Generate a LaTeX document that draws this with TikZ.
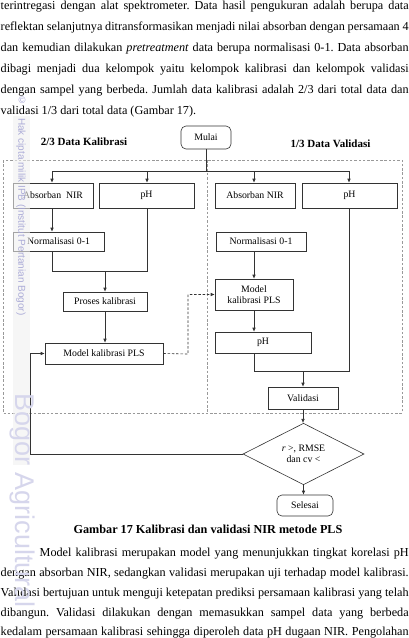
\documentclass[tikz,border=0pt]{standalone}
\usepackage{fontspec}
\setmainfont{Liberation Serif}
\newfontfamily\wmfont{Liberation Sans}
\usetikzlibrary{arrows.meta,shapes.geometric}
\definecolor{wm}{HTML}{A4A4D4}
\definecolor{ln}{HTML}{333333}
\frenchspacing
\begin{document}
\begin{tikzpicture}[x=1pt,y=-1pt,
  box/.style={draw=ln, line width=0.6pt, inner sep=0pt, align=center, font=\fontsize{9.8}{11.5}\selectfont},
  rbox/.style={box, rounded corners=5pt},
  arr/.style={draw=ln, line width=0.6pt, -{Latex[length=4pt,width=3.6pt]}},
  ln/.style={draw=ln, line width=0.6pt},
  region/.style={draw=gray!80, line width=0.6pt, dash pattern=on 2.5pt off 1.8pt},
  para/.style={anchor=base west, inner sep=0pt, font=\fontsize{12.2}{14}\selectfont},
  title/.style={inner sep=0pt, font=\fontsize{11}{13}\selectfont\bfseries}]
\useasboundingbox (0,0) rectangle (409,638);
\fill[white] (0,0) rectangle (409,638);

% paragraph above
\node[para] (p1) at (0.5,9.5) {\makebox[408pt][s]{terintregasi dengan alat spektrometer. Data hasil pengukuran adalah berupa data}};
\node[para] (p2) at (0.5,30.5) {\makebox[408pt][s]{reflektan selanjutnya ditransformasikan menjadi nilai absorban dengan persamaan 4}};
\node[para] (p3) at (0.5,51.5) {\makebox[408pt][s]{dan kemudian dilakukan \textit{pretreatment} data berupa normalisasi 0-1. Data absorban}};
\node[para] (p4) at (0.5,72.5) {\makebox[408pt][s]{dibagi menjadi dua kelompok yaitu kelompok kalibrasi dan kelompok validasi}};
\node[para] (p5) at (0.5,93.5) {\makebox[408pt][s]{dengan sampel yang berbeda. Jumlah data kalibrasi adalah 2/3 dari total data dan}};
\node[para] (p6) at (0.5,114.5) {validasi 1/3 dari total data (Gambar 17).};

% regions
\draw[region] (3,160) rectangle (402,413);
\draw[region] (207,160) -- (207,413);
\node[title] (tk) at (84,142) {2/3 Data Kalibrasi};
\node[title] (tv) at (330.5,144) {1/3 Data Validasi};

% nodes
\node[rbox, minimum width=50pt, minimum height=23pt] (mulai) at (206,137.5) {Mulai};
\node[box, minimum width=80pt, minimum height=25pt] (absL) at (53,195.5) {Absorban\ \ NIR};
\node[box, minimum width=95pt, minimum height=25pt] (phL) at (146.5,195.5) {pH};
\node[box, minimum width=80pt, minimum height=25pt] (absR) at (255,195.5) {Absorban NIR};
\node[box, minimum width=95pt, minimum height=25pt] (phR) at (349.5,195.5) {pH};
\node[box, minimum width=91pt, minimum height=19pt] (normL) at (58.5,241.5) {Normalisasi 0-1};
\node[box, minimum width=90pt, minimum height=19pt] (normR) at (261,241.5) {Normalisasi 0-1};
\node[box, minimum width=84pt, minimum height=19pt] (proses) at (105,301.5) {Proses kalibrasi};
\node[box, minimum width=118pt, minimum height=21pt] (modelL) at (104,353.5) {Model kalibrasi PLS};
\node[box, minimum width=78pt, minimum height=31pt] (modelR) at (254,294.5) {Model\\kalibrasi PLS};
\node[box, minimum width=96pt, minimum height=21pt] (phR2) at (263,342.5) {pH};
\node[box, minimum width=70pt, minimum height=22pt] (valid) at (303,398) {Validasi};
\node[box, shape=diamond, minimum width=121pt, minimum height=58pt] (dia) at (303.5,454) {\textit{r} >, RMSE\\dan cv <};
\node[rbox, minimum width=56pt, minimum height=21pt] (selesai) at (305,505.5) {Selesai};

% connectors
\coordinate (j) at (206,171);
\draw[ln] (mulai.south) -- (mulai.south |- j);
\draw[ln] (52,171) coordinate (jl) -- (349,171) coordinate (jr);
\draw[arr] (jl) -- (jl |- absL.north);
\draw[arr] (147,171) coordinate (jp) -- (jp |- phL.north);
\draw[arr] (254,171) coordinate (ja) -- (ja |- absR.north);
\draw[arr] (jr) -- (jr |- phR.north);
\draw[arr] (jl |- absL.south) -- (jl |- normL.north);
\coordinate (m1) at (105,271);
\draw[ln] (jl |- normL.south) -- (jl |- m1) -- (jp |- m1) -- (jp |- phL.south);
\draw[arr] (m1) -- (proses.north);
\draw[arr] (proses.south) -- (proses.south |- modelL.north);
\coordinate (dd) at (188,354);
\draw[arr, region, draw=gray!40!black] (modelL.east) -- (dd) |- (modelR.west);
\draw[arr] (ja |- normR.south) -- (ja |- modelR.north);
\draw[arr] (modelR.south) -- (modelR.south |- phR2.north);
\coordinate (m2) at (303,371);
\draw[ln] (ja |- phR2.south) -- (ja |- m2) -- (jr |- m2) -- (jr |- phR.south);
\draw[arr] (m2) -- (m2 |- valid.north);
\draw[arr] (valid.south) -- (valid.south |- dia.north);
\draw[arr] (dia.south) -- (dia.south |- selesai.north);
\coordinate (fb) at (30,454);
\draw[arr] (dia.west) -- (fb) |- (modelL.west);

% caption
\node[inner sep=0pt, anchor=base, font=\fontsize{12.2}{14}\selectfont\bfseries] (cap) at (208,533) {Gambar 17 Kalibrasi dan validasi NIR metode PLS};

% paragraph below
\node[para] (q1) at (39.5,556) {\makebox[369pt][s]{Model kalibrasi merupakan model yang menunjukkan tingkat korelasi pH}};
\node[para] (q2) at (0.5,576) {\makebox[408pt][s]{dengan absorban NIR, sedangkan validasi merupakan uji terhadap model kalibrasi.}};
\node[para] (q3) at (0.5,596) {\makebox[408pt][s]{Validasi bertujuan untuk menguji ketepatan prediksi persamaan kalibrasi yang telah}};
\node[para] (q4) at (0.5,616) {\makebox[408pt][s]{dibangun. Validasi dilakukan dengan memasukkan sampel data yang berbeda}};
\node[para] (q5) at (0.5,635) {\makebox[408pt][s]{kedalam persamaan kalibrasi sehingga diperoleh data pH dugaan NIR. Pengolahan}};

% watermark
\fill[gray!12, opacity=0.6] (13,116) rectangle (30,465);
\node[text=wm, font=\wmfont\fontsize{9.5}{10}\selectfont, inner sep=0pt] (wc) at (22,100.5) {\textcopyright};
\node[text=wm, rotate=-90, anchor=west, font=\wmfont\fontsize{10}{11}\selectfont, inner sep=0pt, opacity=0.9] (wt) at (21,118) {Hak cipta milik IPB (Institut Pertanian Bogor)};
\node[text=wm!45, rotate=-90, anchor=west, font=\wmfont\fontsize{27}{28}\selectfont, inner sep=0pt] (wb) at (22,393) {Bogor Agricultural};
\end{tikzpicture}
\end{document}
